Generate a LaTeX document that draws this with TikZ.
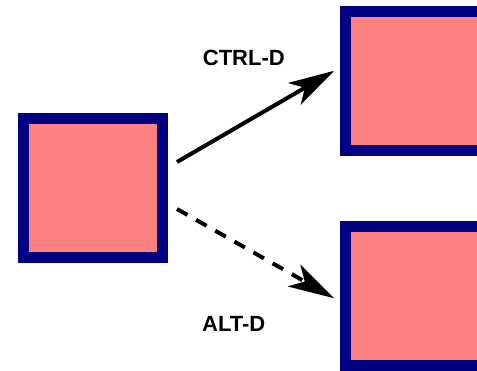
\documentclass[tikz,border=0pt]{standalone}
\usepackage{fontspec}
\setmainfont{Liberation Sans}
\usetikzlibrary{arrows.meta}
\definecolor{boxfill}{HTML}{FF8080}
\definecolor{boxline}{HTML}{000080}
\begin{document}
\begin{tikzpicture}[x=1pt,y=1pt,
  sqbox/.style={draw=boxline, fill=boxfill, line width=11pt, minimum size=139pt, inner sep=0pt, outer sep=0pt},
  conn/.style={line width=4pt, -{Stealth[length=46pt, width=25pt, inset=12pt]}},
  dashconn/.style={conn, dash pattern=on 12pt off 10pt},
  lbl/.style={font=\bfseries\fontsize{22}{26}\selectfont, inner sep=0pt}]
\useasboundingbox (0,0) rectangle (477,370);
\clip (0,0) rectangle (477,370);
\fill[white] (0,0) rectangle (477,370);
\node[sqbox] (a) at (92.75,182) {};
\node[sqbox] (b) at (415,289.15) {};
\node[sqbox] (c) at (415,74.4) {};
\draw[conn] ([xshift=14.75pt,yshift=26pt]a.east) -- ([xshift=-11.2pt,yshift=10.15pt]b.west);
\draw[dashconn] ([xshift=14.75pt,yshift=-21pt]a.east) -- ([xshift=-11.2pt,yshift=-2.7pt]c.west);
\node[lbl] (l1) at (243.8,312.5) {CTRL-D};
\node[lbl] (l2) at (233.8,45.8) {ALT-D};
\end{tikzpicture}
\end{document}
